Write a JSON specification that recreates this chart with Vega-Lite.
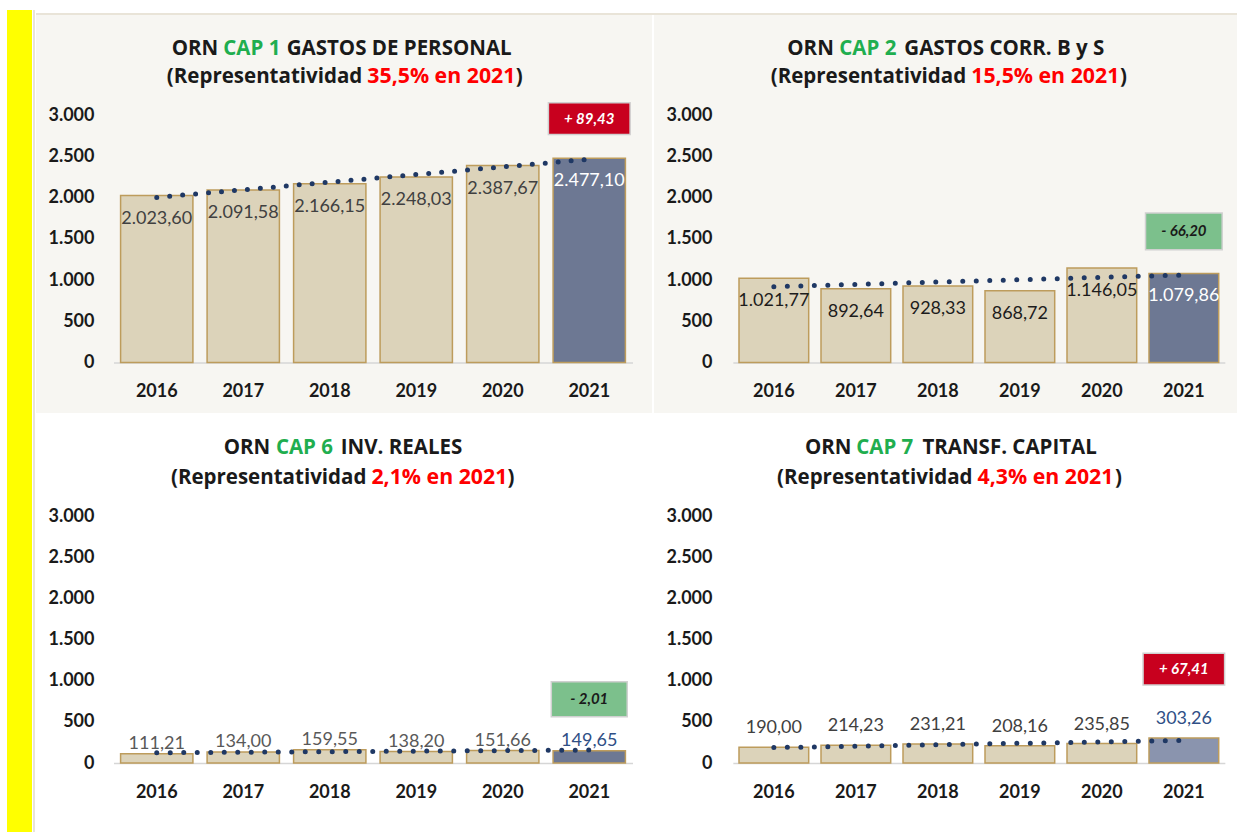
{
  "$schema": "https://vega.github.io/schema/vega-lite/v6.json",
  "background": "#ffffff",
  "padding": {"left": 7, "top": 10, "right": 0, "bottom": 0},
  "config": {
    "font": "Lato",
    "locale": {"number": {"decimal": ",", "thousands": ".", "grouping": [3], "currency": ["", " €"]}},
    "view": {"stroke": null},
    "axisX": {"domainColor": "#d6d6d6", "domainWidth": 1.5, "ticks": false, "tickSize": 0, "labelPadding": 29, "labelBaseline": "middle", "labelFont": "Lato", "labelFontWeight": "bold", "labelFontSize": 18, "labelColor": "#1a1a1a", "labelAngle": 0, "grid": false},
    "axisY": {"domain": false, "ticks": false, "tickSize": 0, "labelPadding": 0, "labelFont": "Lato", "labelFontWeight": "bold", "labelFontSize": 18, "labelColor": "#1a1a1a", "grid": false}
  },
  "datasets": {
    "cap1": [{"year": 2016, "value": 2023.60}, {"year": 2017, "value": 2091.58}, {"year": 2018, "value": 2166.15}, {"year": 2019, "value": 2248.03}, {"year": 2020, "value": 2387.67}, {"year": 2021, "value": 2477.10}],
    "cap2": [{"year": 2016, "value": 1021.77}, {"year": 2017, "value": 892.64}, {"year": 2018, "value": 928.33}, {"year": 2019, "value": 868.72}, {"year": 2020, "value": 1146.05}, {"year": 2021, "value": 1079.86}],
    "cap6": [{"year": 2016, "value": 111.21}, {"year": 2017, "value": 134.00}, {"year": 2018, "value": 159.55}, {"year": 2019, "value": 138.20}, {"year": 2020, "value": 151.66}, {"year": 2021, "value": 149.65}],
    "cap7": [{"year": 2016, "value": 190.00}, {"year": 2017, "value": 214.23}, {"year": 2018, "value": 231.21}, {"year": 2019, "value": 208.16}, {"year": 2020, "value": 235.85}, {"year": 2021, "value": 303.26}]
  },
  "spacing": 1,
  "hconcat": [
    {"width": 25, "height": 822, "data": {"values": [{}]}, "mark": {"type": "point", "opacity": 0, "size": 0, "strokeWidth": 0}, "view": {"fill": "#ffff00", "stroke": null}},
    {"width": 2, "height": 822, "data": {"values": [{}]}, "mark": {"type": "point", "opacity": 0, "size": 0, "strokeWidth": 0}, "view": {"fill": "#e9e4d8", "stroke": null}},
    {
      "spacing": 0,
      "vconcat": [
        {"width": 1201, "height": 3, "data": {"values": [{}]}, "mark": {"type": "point", "opacity": 0, "size": 0, "strokeWidth": 0}, "view": {"stroke": null}},
        {"width": 1201, "height": 2, "data": {"values": [{}]}, "mark": {"type": "point", "opacity": 0, "size": 0, "strokeWidth": 0}, "view": {"fill": "#e9e4d8", "stroke": null}},
        {
          "spacing": 2,
          "hconcat": [
            {
              "width": 616, "height": 398,
              "view": {"fill": "#f7f6f2", "stroke": null},
              "layer": [
                {
                  "data": {"name": "cap1"},
                  "layer": [
                    {"mark": {"type": "bar", "stroke": "#bd9c5c", "strokeWidth": 1.5},
                     "encoding": {
                       "x": {"field": "year", "type": "ordinal", "title": null, "scale": {"type": "band", "range": [77.5, 596.5], "paddingInner": 0.164, "paddingOuter": 0.082}, "axis": {"offset": -50.5}},
                       "y": {"field": "value", "type": "quantitative", "title": null, "scale": {"domain": [0, 3000], "range": [347.5, 100], "nice": false, "zero": false}, "axis": {"offset": -58, "values": [0, 500, 1000, 1500, 2000, 2500, 3000], "format": ",.0f"}},
                       "fill": {"condition": {"test": "datum.year === 2021", "value": "#6d7893"}, "value": "#dcd3ba"}
                     }},
                    {"mark": {"type": "text", "baseline": "middle", "dy": 23, "fontSize": 18},
                     "encoding": {
                       "x": {"field": "year", "type": "ordinal", "title": null},
                       "y": {"field": "value", "type": "quantitative", "title": null},
                       "text": {"field": "value", "type": "quantitative", "format": ",.2f"},
                       "color": {"condition": {"test": "datum.year === 2021", "value": "#ffffff"}, "value": "#404040"}
                     }},
                    {"transform": [{"regression": "value", "on": "year"}],
                     "mark": {"type": "line", "color": "#1f3864", "strokeWidth": 5, "strokeCap": "round", "strokeDash": [0, 13]},
                     "encoding": {
                       "x": {"field": "year", "type": "ordinal", "title": null},
                       "y": {"field": "value", "type": "quantitative", "title": null}
                     }}
                  ]
                },
                {
                  "data": {"values": [{"year": 2021, "change": 89.43, "label": "+ 89,43"}]},
                  "layer": [
                    {"mark": {"type": "bar", "width": {"band": 1.13}, "stroke": "#d0d0d0", "strokeWidth": 1.5},
                     "encoding": {
                       "x": {"field": "year", "type": "ordinal", "title": null},
                       "y": {"datum": 3150}, "y2": {"datum": 2763},
                       "fill": {"condition": {"test": "datum.change > 0", "value": "#c8001e"}, "value": "#7cc08c"}
                     }},
                    {"mark": {"type": "text", "fontWeight": "bold", "fontStyle": "italic", "fontSize": 15, "baseline": "middle"},
                     "encoding": {
                       "x": {"field": "year", "type": "ordinal", "title": null},
                       "y": {"datum": 2956},
                       "text": {"field": "label"},
                       "color": {"condition": {"test": "datum.change > 0", "value": "#ffffff"}, "value": "#1a1a1a"}
                     }}
                  ]
                },
                {
                  "data": {"values": [{}]},
                  "layer": [
                    {"mark": {"type": "text", "text": "ORN", "align": "left", "baseline": "alphabetic", "font": "Open Sans", "fontWeight": "bold", "fontSize": 20.5, "color": "#1a1a1a"}, "encoding": {"x": {"value": 135.7}, "y": {"value": 39.5}}},
                    {"mark": {"type": "text", "text": "CAP 1", "align": "left", "baseline": "alphabetic", "font": "Open Sans", "fontWeight": "bold", "fontSize": 20.5, "color": "#1fae4f"}, "encoding": {"x": {"value": 187.3}, "y": {"value": 39.5}}},
                    {"mark": {"type": "text", "text": "GASTOS DE PERSONAL", "align": "left", "baseline": "alphabetic", "font": "Open Sans", "fontWeight": "bold", "fontSize": 20.5, "color": "#1a1a1a"}, "encoding": {"x": {"value": 250.7}, "y": {"value": 39.5}}},
                    {"mark": {"type": "text", "text": "(Representatividad", "align": "right", "baseline": "alphabetic", "font": "Open Sans", "fontWeight": "bold", "fontSize": 20.5, "color": "#1a1a1a"}, "encoding": {"x": {"value": 326.3}, "y": {"value": 68}}},
                    {"mark": {"type": "text", "text": "35,5% en 2021", "align": "left", "baseline": "alphabetic", "font": "Open Sans", "fontWeight": "bold", "fontSize": 21.3, "color": "#ff0000"}, "encoding": {"x": {"value": 331.3}, "y": {"value": 68}}},
                    {"mark": {"type": "text", "text": ")", "align": "left", "baseline": "alphabetic", "font": "Open Sans", "fontWeight": "bold", "fontSize": 20.5, "color": "#1a1a1a"}, "encoding": {"x": {"value": 479.7}, "y": {"value": 68}}}
                  ]
                }
              ]
            },
            {
              "width": 583, "height": 398,
              "view": {"fill": "#f7f6f2", "stroke": null},
              "layer": [
                {
                  "data": {"name": "cap2"},
                  "layer": [
                    {"mark": {"type": "bar", "stroke": "#bd9c5c", "strokeWidth": 1.5},
                     "encoding": {
                       "x": {"field": "year", "type": "ordinal", "title": null, "scale": {"type": "band", "range": [78.85, 570.85], "paddingInner": 0.15, "paddingOuter": 0.075}, "axis": {"offset": -50.5}},
                       "y": {"field": "value", "type": "quantitative", "title": null, "scale": {"domain": [0, 3000], "range": [347.5, 100], "nice": false, "zero": false}, "axis": {"offset": -58, "values": [0, 500, 1000, 1500, 2000, 2500, 3000], "format": ",.0f"}},
                       "fill": {"condition": {"test": "datum.year === 2021", "value": "#6d7893"}, "value": "#dcd3ba"}
                     }},
                    {"mark": {"type": "text", "baseline": "middle", "dy": 23, "fontSize": 18},
                     "encoding": {
                       "x": {"field": "year", "type": "ordinal", "title": null},
                       "y": {"field": "value", "type": "quantitative", "title": null},
                       "text": {"field": "value", "type": "quantitative", "format": ",.2f"},
                       "color": {"condition": {"test": "datum.year === 2021", "value": "#ffffff"}, "value": "#1c1c1c"}
                     }},
                    {"transform": [{"regression": "value", "on": "year"}],
                     "mark": {"type": "line", "color": "#1f3864", "strokeWidth": 5, "strokeCap": "round", "strokeDash": [0, 13.5]},
                     "encoding": {
                       "x": {"field": "year", "type": "ordinal", "title": null},
                       "y": {"field": "value", "type": "quantitative", "title": null}
                     }}
                  ]
                },
                {
                  "data": {"values": [{"year": 2021, "change": -66.20, "label": "- 66,20"}]},
                  "layer": [
                    {"mark": {"type": "bar", "width": {"band": 1.1}, "stroke": "#d0d0d0", "strokeWidth": 1.5},
                     "encoding": {
                       "x": {"field": "year", "type": "ordinal", "title": null},
                       "y": {"datum": 1812}, "y2": {"datum": 1366},
                       "fill": {"condition": {"test": "datum.change > 0", "value": "#c8001e"}, "value": "#7cc08c"}
                     }},
                    {"mark": {"type": "text", "fontWeight": "bold", "fontStyle": "italic", "fontSize": 15, "baseline": "middle"},
                     "encoding": {
                       "x": {"field": "year", "type": "ordinal", "title": null},
                       "y": {"datum": 1589},
                       "text": {"field": "label"},
                       "color": {"condition": {"test": "datum.change > 0", "value": "#ffffff"}, "value": "#1a1a1a"}
                     }}
                  ]
                },
                {
                  "data": {"values": [{}]},
                  "layer": [
                    {"mark": {"type": "text", "text": "ORN", "align": "left", "baseline": "alphabetic", "font": "Open Sans", "fontWeight": "bold", "fontSize": 20.5, "color": "#1a1a1a"}, "encoding": {"x": {"value": 133.3}, "y": {"value": 39.5}}},
                    {"mark": {"type": "text", "text": "CAP 2", "align": "left", "baseline": "alphabetic", "font": "Open Sans", "fontWeight": "bold", "fontSize": 20.5, "color": "#1fae4f"}, "encoding": {"x": {"value": 185.3}, "y": {"value": 39.5}}},
                    {"mark": {"type": "text", "text": "GASTOS CORR. B y S", "align": "left", "baseline": "alphabetic", "font": "Open Sans", "fontWeight": "bold", "fontSize": 20.5, "color": "#1a1a1a"}, "encoding": {"x": {"value": 250.3}, "y": {"value": 39.5}}},
                    {"mark": {"type": "text", "text": "(Representatividad", "align": "right", "baseline": "alphabetic", "font": "Open Sans", "fontWeight": "bold", "fontSize": 20.5, "color": "#1a1a1a"}, "encoding": {"x": {"value": 312.2}, "y": {"value": 68}}},
                    {"mark": {"type": "text", "text": "15,5% en 2021", "align": "left", "baseline": "alphabetic", "font": "Open Sans", "fontWeight": "bold", "fontSize": 21.3, "color": "#ff0000"}, "encoding": {"x": {"value": 317.2}, "y": {"value": 68}}},
                    {"mark": {"type": "text", "text": ")", "align": "left", "baseline": "alphabetic", "font": "Open Sans", "fontWeight": "bold", "fontSize": 20.5, "color": "#1a1a1a"}, "encoding": {"x": {"value": 466}, "y": {"value": 68}}}
                  ]
                }
              ]
            }
          ]
        },
        {
          "spacing": 2,
          "hconcat": [
            {
              "width": 616, "height": 419,
              "view": {"fill": "#ffffff", "stroke": null},
              "layer": [
                {
                  "data": {"name": "cap6"},
                  "layer": [
                    {"mark": {"type": "bar", "stroke": "#bd9c5c", "strokeWidth": 1.5},
                     "encoding": {
                       "x": {"field": "year", "type": "ordinal", "title": null, "scale": {"type": "band", "range": [77.5, 596.5], "paddingInner": 0.164, "paddingOuter": 0.082}, "axis": {"offset": -69}},
                       "y": {"field": "value", "type": "quantitative", "title": null, "scale": {"domain": [0, 3000], "range": [350, 103], "nice": false, "zero": false}, "axis": {"offset": -58, "values": [0, 500, 1000, 1500, 2000, 2500, 3000], "format": ",.0f"}},
                       "fill": {"condition": {"test": "datum.year === 2021", "value": "#6d7893"}, "value": "#dcd3ba"}
                     }},
                    {"mark": {"type": "text", "baseline": "middle", "dy": -10, "fontSize": 18},
                     "encoding": {
                       "x": {"field": "year", "type": "ordinal", "title": null},
                       "y": {"field": "value", "type": "quantitative", "title": null},
                       "text": {"field": "value", "type": "quantitative", "format": ",.2f"},
                       "color": {"condition": {"test": "datum.year === 2021", "value": "#2f4f86"}, "value": "#595959"}
                     }},
                    {"transform": [{"regression": "value", "on": "year"}],
                     "mark": {"type": "line", "color": "#1f3864", "strokeWidth": 5, "strokeCap": "round", "strokeDash": [0, 13.5]},
                     "encoding": {
                       "x": {"field": "year", "type": "ordinal", "title": null},
                       "y": {"field": "value", "type": "quantitative", "title": null}
                     }}
                  ]
                },
                {
                  "data": {"values": [{"year": 2021, "change": -2.01, "label": "- 2,01"}]},
                  "layer": [
                    {"mark": {"type": "bar", "width": {"band": 1.05}, "stroke": "#d0d0d0", "strokeWidth": 1.5},
                     "encoding": {
                       "x": {"field": "year", "type": "ordinal", "title": null},
                       "y": {"datum": 987}, "y2": {"datum": 562},
                       "fill": {"condition": {"test": "datum.change > 0", "value": "#c8001e"}, "value": "#7cc08c"}
                     }},
                    {"mark": {"type": "text", "fontWeight": "bold", "fontStyle": "italic", "fontSize": 15, "baseline": "middle"},
                     "encoding": {
                       "x": {"field": "year", "type": "ordinal", "title": null},
                       "y": {"datum": 775},
                       "text": {"field": "label"},
                       "color": {"condition": {"test": "datum.change > 0", "value": "#ffffff"}, "value": "#1a1a1a"}
                     }}
                  ]
                },
                {
                  "data": {"values": [{}]},
                  "layer": [
                    {"mark": {"type": "text", "text": "ORN", "align": "left", "baseline": "alphabetic", "font": "Open Sans", "fontWeight": "bold", "fontSize": 20.5, "color": "#1a1a1a"}, "encoding": {"x": {"value": 187.7}, "y": {"value": 41}}},
                    {"mark": {"type": "text", "text": "CAP 6", "align": "left", "baseline": "alphabetic", "font": "Open Sans", "fontWeight": "bold", "fontSize": 20.5, "color": "#1fae4f"}, "encoding": {"x": {"value": 239.9}, "y": {"value": 41}}},
                    {"mark": {"type": "text", "text": "INV. REALES", "align": "left", "baseline": "alphabetic", "font": "Open Sans", "fontWeight": "bold", "fontSize": 20.5, "color": "#1a1a1a"}, "encoding": {"x": {"value": 304.8}, "y": {"value": 41}}},
                    {"mark": {"type": "text", "text": "(Representatividad", "align": "right", "baseline": "alphabetic", "font": "Open Sans", "fontWeight": "bold", "fontSize": 20.5, "color": "#1a1a1a"}, "encoding": {"x": {"value": 330.4}, "y": {"value": 71}}},
                    {"mark": {"type": "text", "text": "2,1% en 2021", "align": "left", "baseline": "alphabetic", "font": "Open Sans", "fontWeight": "bold", "fontSize": 21.3, "color": "#ff0000"}, "encoding": {"x": {"value": 335.4}, "y": {"value": 71}}},
                    {"mark": {"type": "text", "text": ")", "align": "left", "baseline": "alphabetic", "font": "Open Sans", "fontWeight": "bold", "fontSize": 20.5, "color": "#1a1a1a"}, "encoding": {"x": {"value": 471.5}, "y": {"value": 71}}}
                  ]
                }
              ]
            },
            {
              "width": 583, "height": 419,
              "view": {"fill": "#ffffff", "stroke": null},
              "layer": [
                {
                  "data": {"name": "cap7"},
                  "layer": [
                    {"mark": {"type": "bar", "stroke": "#bd9c5c", "strokeWidth": 1.5},
                     "encoding": {
                       "x": {"field": "year", "type": "ordinal", "title": null, "scale": {"type": "band", "range": [78.85, 570.85], "paddingInner": 0.15, "paddingOuter": 0.075}, "axis": {"offset": -69}},
                       "y": {"field": "value", "type": "quantitative", "title": null, "scale": {"domain": [0, 3000], "range": [350, 103], "nice": false, "zero": false}, "axis": {"offset": -58, "values": [0, 500, 1000, 1500, 2000, 2500, 3000], "format": ",.0f"}},
                       "fill": {"condition": {"test": "datum.year === 2021", "value": "#8a94ae"}, "value": "#dcd3ba"}
                     }},
                    {"mark": {"type": "text", "baseline": "middle", "dy": -19, "fontSize": 18},
                     "encoding": {
                       "x": {"field": "year", "type": "ordinal", "title": null},
                       "y": {"field": "value", "type": "quantitative", "title": null},
                       "text": {"field": "value", "type": "quantitative", "format": ",.2f"},
                       "color": {"condition": {"test": "datum.year === 2021", "value": "#2f4f86"}, "value": "#404040"}
                     }},
                    {"transform": [{"regression": "value", "on": "year"}],
                     "mark": {"type": "line", "color": "#1f3864", "strokeWidth": 5, "strokeCap": "round", "strokeDash": [0, 13.5]},
                     "encoding": {
                       "x": {"field": "year", "type": "ordinal", "title": null},
                       "y": {"field": "value", "type": "quantitative", "title": null}
                     }}
                  ]
                },
                {
                  "data": {"values": [{"year": 2021, "change": 67.41, "label": "+ 67,41"}]},
                  "layer": [
                    {"mark": {"type": "bar", "width": {"band": 1.17}, "stroke": "#d0d0d0", "strokeWidth": 1.5},
                     "encoding": {
                       "x": {"field": "year", "type": "ordinal", "title": null},
                       "y": {"datum": 1332}, "y2": {"datum": 947},
                       "fill": {"condition": {"test": "datum.change > 0", "value": "#c8001e"}, "value": "#7cc08c"}
                     }},
                    {"mark": {"type": "text", "fontWeight": "bold", "fontStyle": "italic", "fontSize": 15, "baseline": "middle"},
                     "encoding": {
                       "x": {"field": "year", "type": "ordinal", "title": null},
                       "y": {"datum": 1140},
                       "text": {"field": "label"},
                       "color": {"condition": {"test": "datum.change > 0", "value": "#ffffff"}, "value": "#1a1a1a"}
                     }}
                  ]
                },
                {
                  "data": {"values": [{}]},
                  "layer": [
                    {"mark": {"type": "text", "text": "ORN", "align": "left", "baseline": "alphabetic", "font": "Open Sans", "fontWeight": "bold", "fontSize": 20.5, "color": "#1a1a1a"}, "encoding": {"x": {"value": 151}, "y": {"value": 41}}},
                    {"mark": {"type": "text", "text": "CAP 7", "align": "left", "baseline": "alphabetic", "font": "Open Sans", "fontWeight": "bold", "fontSize": 20.5, "color": "#1fae4f"}, "encoding": {"x": {"value": 202.2}, "y": {"value": 41}}},
                    {"mark": {"type": "text", "text": "TRANSF. CAPITAL", "align": "left", "baseline": "alphabetic", "font": "Open Sans", "fontWeight": "bold", "fontSize": 20.5, "color": "#1a1a1a"}, "encoding": {"x": {"value": 268.4}, "y": {"value": 41}}},
                    {"mark": {"type": "text", "text": "(Representatividad", "align": "right", "baseline": "alphabetic", "font": "Open Sans", "fontWeight": "bold", "fontSize": 20.5, "color": "#1a1a1a"}, "encoding": {"x": {"value": 318.5}, "y": {"value": 71}}},
                    {"mark": {"type": "text", "text": "4,3% en 2021", "align": "left", "baseline": "alphabetic", "font": "Open Sans", "fontWeight": "bold", "fontSize": 21.3, "color": "#ff0000"}, "encoding": {"x": {"value": 323.5}, "y": {"value": 71}}},
                    {"mark": {"type": "text", "text": ")", "align": "left", "baseline": "alphabetic", "font": "Open Sans", "fontWeight": "bold", "fontSize": 20.5, "color": "#1a1a1a"}, "encoding": {"x": {"value": 461}, "y": {"value": 71}}}
                  ]
                }
              ]
            }
          ]
        }
      ]
    }
  ]
}
